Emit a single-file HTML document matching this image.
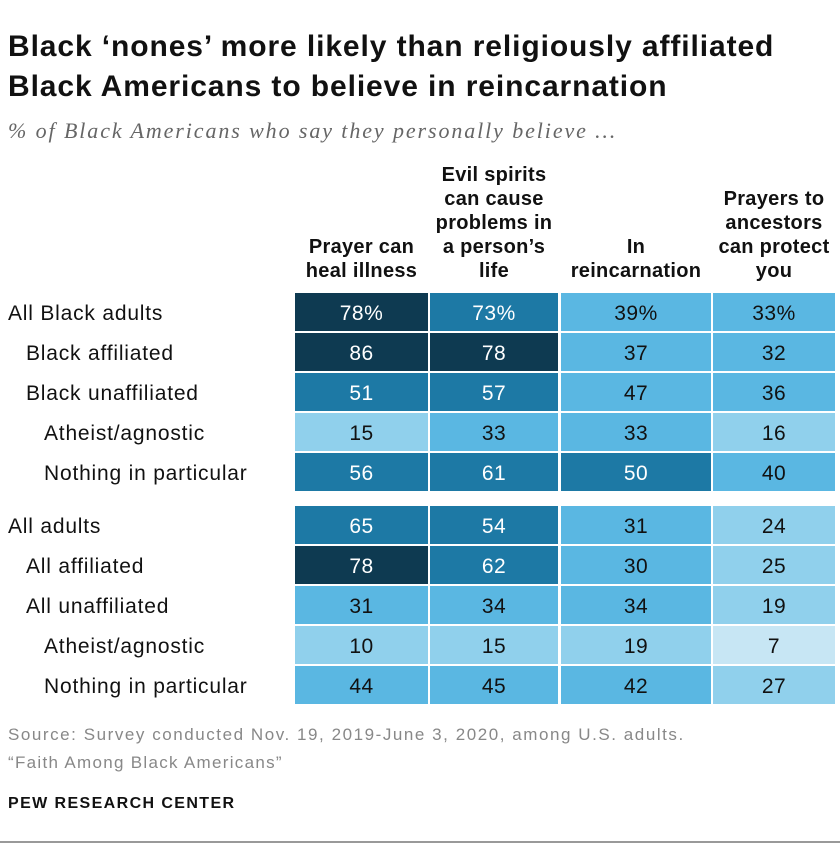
<!DOCTYPE html>
<html><head><meta charset="utf-8"><style>
body{margin:0;background:#fff;width:840px;height:844px;overflow:hidden}
svg{display:block;font-family:"Liberation Sans",sans-serif}
</style></head><body>
<svg id="c" width="840" height="844" viewBox="0 0 840 844">
<text x="8" y="56" font-size="30" font-weight="bold" letter-spacing="0.9" fill="#111">Black ‘nones’ more likely than religiously affiliated</text>
<text x="8" y="96" font-size="30" font-weight="bold" letter-spacing="0.9" fill="#111">Black Americans to believe in reincarnation</text>
<text x="8" y="138" font-size="22" font-style="italic" letter-spacing="1.9" fill="#666" font-family="Liberation Serif, serif">% of Black Americans who say they personally believe …</text>
<g id="cells"></g>
<text x="8" y="740" font-size="17" letter-spacing="1.55" fill="#888">Source: Survey conducted Nov. 19, 2019-June 3, 2020, among U.S. adults.</text>
<text x="8" y="768" font-size="17" letter-spacing="1.3" fill="#888">“Faith Among Black Americans”</text>
<text x="8" y="808" font-size="16" font-weight="bold" letter-spacing="1.4" fill="#111">PEW RESEARCH CENTER</text>
<line x1="0" y1="842" x2="840" y2="842" stroke="#333" stroke-width="1"/>
</svg>
<script>
const headers=[["Prayer can","heal illness"],["Evil spirits","can cause","problems in","a person’s","life"],["In","reincarnation"],["Prayers to","ancestors","can protect","you"]];
const rowLabels=["All Black adults","Black affiliated","Black unaffiliated","Atheist/agnostic","Nothing in particular","All adults","All affiliated","All unaffiliated","Atheist/agnostic","Nothing in particular"];
const rowIndent=[0,1,1,2,2,0,1,1,2,2];
const prayerHeal=[78,86,51,15,56,65,78,31,10,44];
const evilSpirits=[73,78,57,33,61,54,62,34,15,45];
const reincarnation=[39,37,47,33,50,31,30,34,19,42];
const ancestors=[33,32,36,16,40,24,25,19,7,27];
const series=[prayerHeal,evilSpirits,reincarnation,ancestors];
const colX=[295,430,561,713],colW=[133,128,150,122];
const NS="http://www.w3.org/2000/svg";
const g=document.getElementById('cells');
function rowY(i){return (i<5?293:506)+(i%5)*40;}
function color(v){return v>=75?'#0e3a51':v>=50?'#1d79a5':v>=30?'#5ab7e2':v>=10?'#90d0ec':'#c7e6f4';}
function mk(t,a){const e=document.createElementNS(NS,t);for(const k in a)e.setAttribute(k,a[k]);g.appendChild(e);return e;}
headers.forEach((h,c)=>{const cx=colX[c]+colW[c]/2;h.forEach((ln,j)=>{const t=mk('text',{x:cx,y:277-(h.length-1-j)*24,'text-anchor':'middle','font-size':20,'letter-spacing':0.3,'font-weight':'bold',fill:'#111'});t.textContent=ln;

});});
rowLabels.forEach((l,i)=>{const t=mk('text',{x:8+rowIndent[i]*18,y:rowY(i)+27,'font-size':21,'letter-spacing':0.8,fill:'#111'});t.textContent=l;

});
series.forEach((s,c)=>{s.forEach((v,i)=>{const r=mk('rect',{x:colX[c],y:rowY(i),width:colW[c],height:38,fill:color(v)});


const t=mk('text',{x:colX[c]+colW[c]/2,y:rowY(i)+27,'text-anchor':'middle','font-size':21,'letter-spacing':0.5,fill:v>=50?'#fff':'#111'});t.textContent=v+(i===0?'%':'');

});});
</script>
</body></html>
